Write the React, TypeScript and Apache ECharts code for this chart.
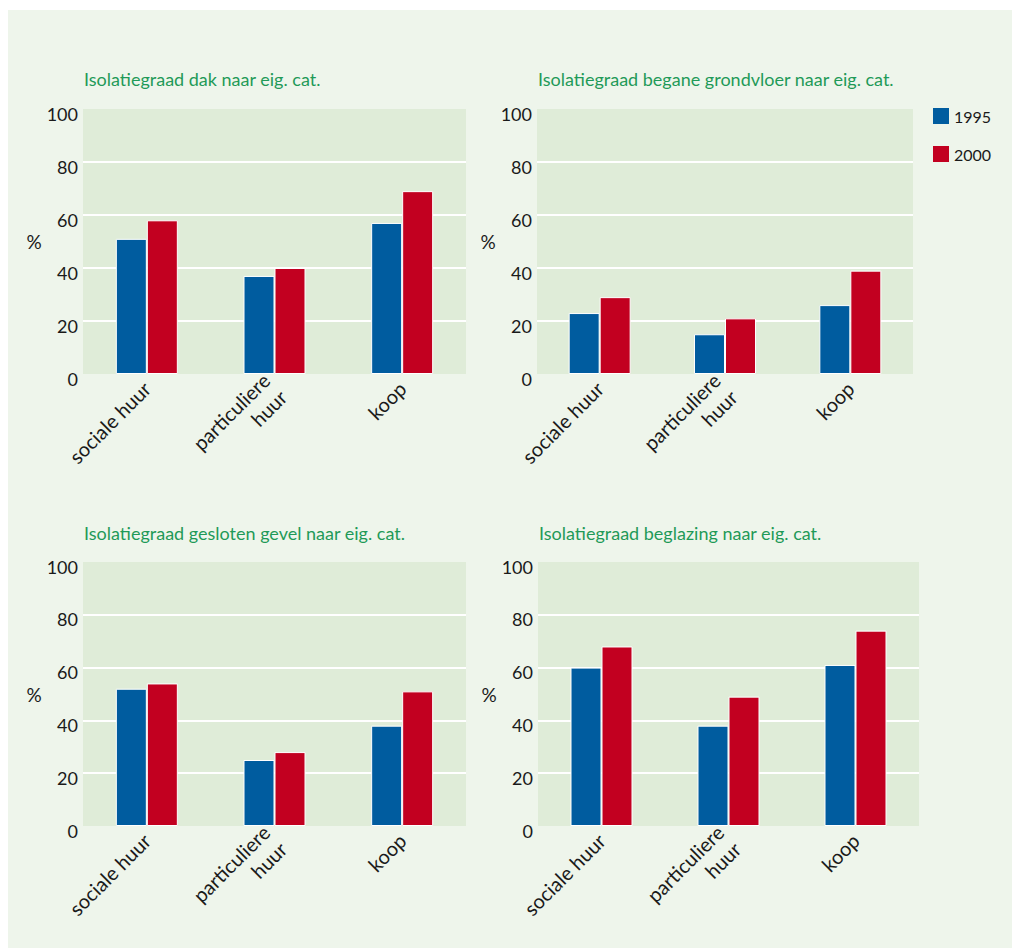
import React, { useEffect, useRef } from "react";
import * as echarts from "echarts";

const categories = ["sociale huur", "particuliere\nhuur", "koop"];
const seriesNames = ["1995", "2000"];
const titles = [
  "Isolatiegraad dak naar eig. cat.",
  "Isolatiegraad begane grondvloer naar eig. cat.",
  "Isolatiegraad gesloten gevel naar eig. cat.",
  "Isolatiegraad beglazing naar eig. cat.",
];
const dak1995 = [51, 37, 57];
const dak2000 = [58, 40, 69];
const vloer1995 = [23, 15, 26];
const vloer2000 = [29, 21, 39];
const gevel1995 = [52, 25, 38];
const gevel2000 = [54, 28, 51];
const glas1995 = [60, 38, 61];
const glas2000 = [68, 49, 74];
const yTicks = [0, 20, 40, 60, 80, 100];

const panelData = [
  [dak1995, dak2000],
  [vloer1995, vloer2000],
  [gevel1995, gevel2000],
  [glas1995, glas2000],
];

const BLUE = "#005c9f";
const RED = "#c20020";
const GREEN = "#1f9a58";
const TEXT = "#1a1a1a";
const FONT = "Lato, 'Open Sans', sans-serif";

// grid rectangles (chart coords)
const grids = [
  { left: 75, top: 99, width: 383, height: 265 },
  { left: 529, top: 99, width: 376, height: 265 },
  { left: 75, top: 552, width: 383, height: 264 },
  { left: 530, top: 552, width: 381, height: 264 },
];
const titlePos = [
  { left: 76, top: 60 },
  { left: 530, top: 60 },
  { left: 76, top: 514 },
  { left: 531, top: 514 },
];

export default function App() {
  const ref = useRef<HTMLDivElement>(null);
  useEffect(() => {
    if (!ref.current) return;
    const chart = echarts.init(ref.current, null, { renderer: "svg" });
    const option: any = {
      animation: false,
      backgroundColor: "#eef5eb",
      textStyle: { fontFamily: FONT },
      title: titles.map((t, i) => ({
        text: t,
        left: titlePos[i].left,
        top: titlePos[i].top,
        padding: 0,
        textStyle: { color: GREEN, fontSize: 18, fontWeight: "normal", fontFamily: FONT },
      })),
      legend: {
        data: seriesNames,
        orient: "vertical",
        left: 925,
        top: 98,
        padding: 0,
        itemWidth: 16,
        itemHeight: 16,
        itemGap: 22,
        icon: "rect",
        itemStyle: { borderWidth: 0 },
        textStyle: { color: TEXT, fontSize: 16, fontFamily: FONT, padding: [9, 0, 0, 0] },
      },
      grid: grids.map((g) => ({
        ...g,
        show: true,
        backgroundColor: "#dfecd8",
        borderWidth: 0,
        containLabel: false,
      })),
      xAxis: grids.map((_, i) => ({
        type: "category",
        gridIndex: i,
        data: categories,
        axisLine: { show: false },
        axisTick: { show: false },
        axisLabel: {
          rotate: 45,
          margin: 11,
          fontSize: 20,
          color: TEXT,
          fontFamily: FONT,
          lineHeight: 24,
          interval: 0,
        },
      })),
      yAxis: grids.map((_, i) => ({
        type: "value",
        gridIndex: i,
        min: yTicks[0],
        max: yTicks[yTicks.length - 1],
        interval: 20,
        name: "%",
        nameLocation: "middle",
        nameRotate: 0,
        nameGap: 40,
        nameTextStyle: { fontSize: 19, color: TEXT, fontFamily: FONT },
        axisLine: { show: false },
        axisTick: { show: false },
        axisLabel: {
          fontSize: 18,
          color: TEXT,
          margin: 5,
          fontFamily: FONT,
          verticalAlign: "top",
          lineHeight: 9,
        },
        splitLine: {
          show: true,
          lineStyle: {
            color: ["rgba(0,0,0,0)", "#ffffff", "#ffffff", "#ffffff", "#ffffff", "rgba(0,0,0,0)"],
            width: 2,
          },
        },
      })),
      series: panelData.flatMap((pair, i) =>
        pair.map((vals, j) => ({
          type: "bar",
          name: seriesNames[j],
          xAxisIndex: i,
          yAxisIndex: i,
          data: vals,
          barWidth: 31,
          barGap: "0%",
          itemStyle: {
            color: j === 0 ? BLUE : RED,
            borderColor: "#ffffff",
            borderWidth: 1,
          },
        }))
      ),
    };
    chart.setOption(option);
    return () => chart.dispose();
  }, []);
  return (
    <div
      ref={ref}
      style={{ position: "absolute", left: 8, top: 10, width: 1004, height: 938 }}
    />
  );
}
